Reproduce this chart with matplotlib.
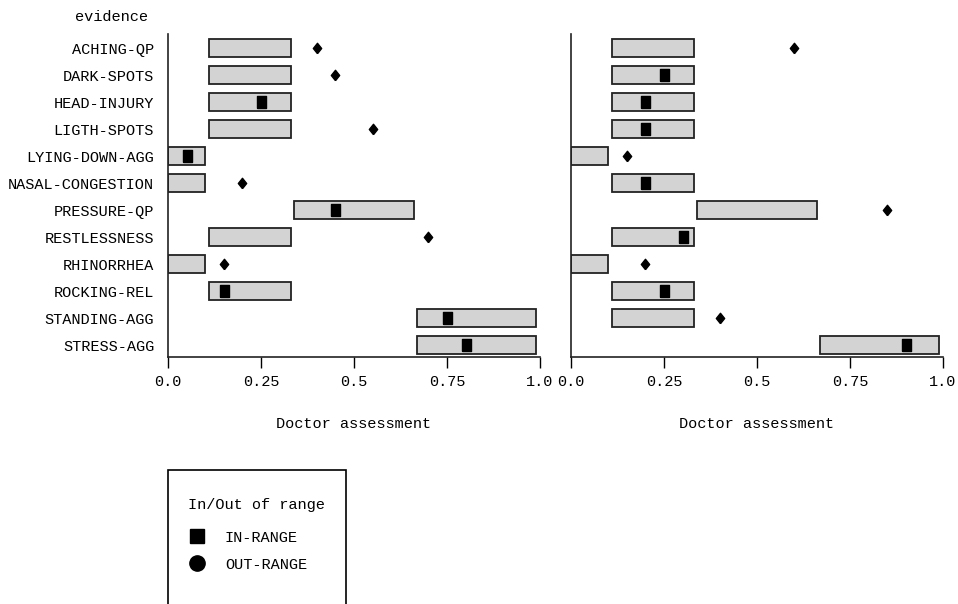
#!/usr/bin/env python3
import matplotlib
matplotlib.use("Agg")
import matplotlib.pyplot as plt
from matplotlib.lines import Line2D
from matplotlib.patches import Rectangle

# ---------------------------------------------------------------------------
# Data
# ---------------------------------------------------------------------------
evidence = ["ACHING-QP", "DARK-SPOTS", "HEAD-INJURY", "LIGTH-SPOTS",
            "LYING-DOWN-AGG", "NASAL-CONGESTION", "PRESSURE-QP",
            "RESTLESSNESS", "RHINORRHEA", "ROCKING-REL", "STANDING-AGG",
            "STRESS-AGG"]

# left panel: range (low, high), doctor value, in range?
left_low = [0.11, 0.11, 0.11, 0.11, 0.0, 0.0, 0.34, 0.11, 0.0, 0.11, 0.67, 0.67]
left_high = [0.33, 0.33, 0.33, 0.33, 0.10, 0.10, 0.66, 0.33, 0.10, 0.33, 0.99, 0.99]
left_value = [0.40, 0.45, 0.25, 0.55, 0.05, 0.20, 0.45, 0.70, 0.15, 0.15, 0.75, 0.80]
left_in = [False, False, True, False, True, False, True, False, False, True, True, True]

# right panel
right_low = [0.11, 0.11, 0.11, 0.11, 0.0, 0.11, 0.34, 0.11, 0.0, 0.11, 0.11, 0.67]
right_high = [0.33, 0.33, 0.33, 0.33, 0.10, 0.33, 0.66, 0.33, 0.10, 0.33, 0.33, 0.99]
right_value = [0.60, 0.25, 0.20, 0.20, 0.15, 0.20, 0.85, 0.30, 0.20, 0.25, 0.40, 0.90]
right_in = [False, True, True, True, False, True, False, True, False, True, False, True]

xticks = [0.0, 0.25, 0.5, 0.75, 1.0]
xtick_labels = ["0.0", "0.25", "0.5", "0.75", "1.0"]

# ---------------------------------------------------------------------------
# Styling
# ---------------------------------------------------------------------------
plt.rcParams['font.family'] = ['Liberation Mono', 'DejaVu Sans Mono']
plt.rcParams['font.size'] = 11

W, H = 958, 604
fig = plt.figure(figsize=(W / 100, H / 100), dpi=100)

# custom marker shapes: tall rectangle and diamond
rect_marker = [(-0.72, -1), (0.72, -1), (0.72, 1), (-0.72, 1), (-0.72, -1)]
diamond_marker = [(0, -1), (0.8, 0), (0, 1), (-0.8, 0), (0, -1)]


def fx(px):
    return px / W


def fy(py):
    return 1 - py / H


def draw_panel(ax, low, high, value, inside, show_labels):
    ypos = list(range(len(evidence)))
    widths = [h - l for l, h in zip(low, high)]
    ax.barh(ypos, widths, left=low, height=0.68, color="#d3d3d3",
            edgecolor="#222222", linewidth=1.3, zorder=2)
    for y, v, ok in zip(ypos, value, inside):
        if ok:
            ax.plot(v, y, linestyle="none", marker=rect_marker, markersize=9,
                    color="black", zorder=3)
        else:
            ax.plot(v, y, linestyle="none", marker=diamond_marker, markersize=7.5,
                    color="black", zorder=3)
    ax.set_xlim(0, 1.0)
    ax.set_ylim(len(evidence) - 1 + 0.44, -0.52)
    ax.set_xticks(xticks)
    ax.set_xticklabels(xtick_labels)
    ax.set_yticks(ypos)
    if show_labels:
        ax.set_yticklabels(evidence)
    else:
        ax.set_yticklabels([])
    ax.tick_params(axis="y", length=0, pad=10)
    ax.tick_params(axis="x", direction="out", length=8, width=1, pad=5)
    for side in ("top", "right"):
        ax.spines[side].set_visible(False)
    for side in ("left", "bottom"):
        ax.spines[side].set_linewidth(1.2)
        ax.spines[side].set_color("#222222")
    ax.set_xlabel("Doctor assessment", labelpad=20)


ax_bottom = fy(357)
ax_height = fy(34) - fy(357)
ax1 = fig.add_axes([fx(168), ax_bottom, fx(372), ax_height])
ax2 = fig.add_axes([fx(571), ax_bottom, fx(372), ax_height])

draw_panel(ax1, left_low, left_high, left_value, left_in, True)
draw_panel(ax2, right_low, right_high, right_value, right_in, False)

fig.text(fx(112), fy(17), "evidence", ha="center", va="center")

# legend box (open at the bottom edge of the figure)
fig.patches.append(Rectangle((fx(168), fy(640)), fx(178), fy(470) - fy(640),
                             transform=fig.transFigure, fill=False,
                             edgecolor="black", linewidth=1.2))
fig.text(fx(188), fy(505), "In/Out of range", ha="left", va="center")
handles = [
    Line2D([], [], linestyle="none", marker="s", markersize=10.5, color="black"),
    Line2D([], [], linestyle="none", marker="o", markersize=11, color="black"),
]
fig.legend(handles, ["IN-RANGE", "OUT-RANGE"],
           loc="upper left", bbox_to_anchor=(fx(176), fy(517)),
           frameon=False, handlelength=1.0,
           handletextpad=1.3, labelspacing=0.85)

fig.savefig("out.png", dpi=100)
